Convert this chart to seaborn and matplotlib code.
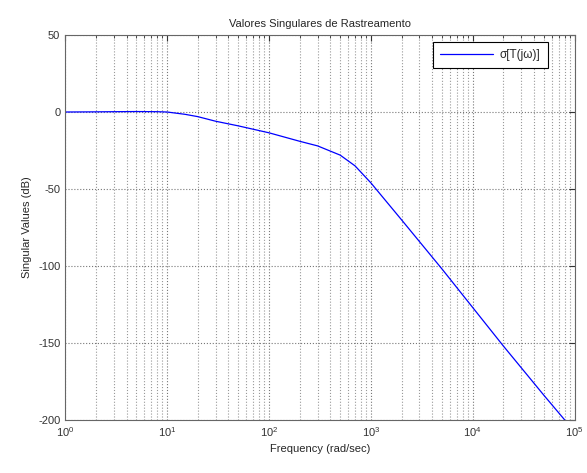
import numpy as np
import pandas as pd
import matplotlib
matplotlib.use("Agg")
from matplotlib import pyplot as plt
from matplotlib.ticker import LogLocator, NullFormatter
import seaborn as sns

# values
freq = [1, 2, 3, 5, 8, 10, 15, 20, 30, 50, 100, 200, 300, 500, 700, 1000,
        2000, 5000, 10000, 20000, 50000, 80000]
sv_db = [0, 0.1, 0.2, 0.3, 0.2, 0, -1.5, -3, -6, -9, -13.5, -19, -22, -28, -35, -46,
         -70, -102, -127, -152, -184, -200]

df = pd.DataFrame({"w": freq, "sv": sv_db})

sns.set_style("white")
plt.rcParams['font.family'] = ['Liberation Sans', 'DejaVu Sans']
plt.rcParams['axes.unicode_minus'] = False

fig = plt.figure(figsize=(5.87, 4.73), dpi=100)
ax = fig.add_axes([0.111, 0.112, 0.868, 0.814])

sns.lineplot(data=df, x="w", y="sv", ax=ax, color='#0000ff', linewidth=0.9,
             label='σ[T(jω)]')

ax.set_xscale('log')
ax.set_xlim(1, 1e5)
ax.set_ylim(-200, 50)
ax.set_yticks([-200, -150, -100, -50, 0, 50])
ax.xaxis.set_minor_locator(LogLocator(base=10, subs=np.arange(2, 10), numticks=20))
ax.xaxis.set_minor_formatter(NullFormatter())

ax.grid(True, which='major', axis='both', linestyle=':', color='#777777', linewidth=0.8)
ax.grid(True, which='minor', axis='x', linestyle=':', color='#999999', linewidth=0.8)

ax.tick_params(which='both', direction='in', top=True, right=True, labelsize=8, colors='#333333')
ax.tick_params(which='major', length=4)
ax.tick_params(which='minor', length=2)
for s in ax.spines.values():
    s.set_color('#666666')
    s.set_linewidth(0.8)

ax.set_xlabel("Frequency (rad/sec)", fontsize=8)
ax.set_ylabel("Singular Values (dB)", fontsize=8)
ax.set_title("Valores Singulares de Rastreamento", fontsize=8)

leg = ax.legend(loc='upper right', fontsize=8.5, fancybox=False, framealpha=1,
                edgecolor='black', bbox_to_anchor=(0.947, 0.982), borderaxespad=0,
                borderpad=0.6, handlelength=4.5, handletextpad=0.6)
leg.get_frame().set_linewidth(0.8)

fig.savefig("out.png", dpi=100, facecolor='white')
